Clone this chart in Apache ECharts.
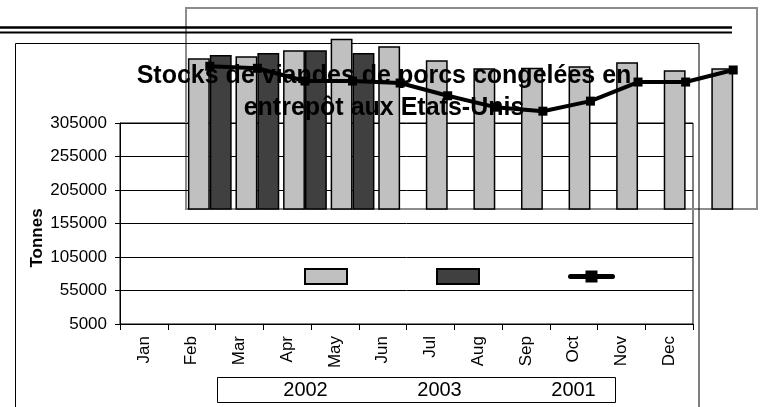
<!DOCTYPE html>
<html><head><meta charset="utf-8">
<script src="https://cdn.jsdelivr.net/npm/echarts@6/dist/echarts.min.js"></script>
<style>html,body{margin:0;padding:0;background:#fff}#c{width:761px;height:407px}</style>
</head><body><div id="c"></div>
<script>
const months = ['Jan','Feb','Mar','Apr','May','Jun','Jul','Aug','Sep','Oct','Nov','Dec'];
const yTickLabels = ['5000','55000','105000','155000','205000','255000','305000'];
const seriesNames = ['2002','2003','2001'];
const stocks2002 = [230000,233000,242000,259000,248000,227000,215000,216000,218000,224000,212000,215000];
const stocks2003 = [235000,238000,242000,238000,null,null,null,null,null,null,null,null];
const stocks2001 = [218000,215000,196000,196000,193000,174000,157000,151000,166000,194500,194500,212500];
const titleText = 'Stocks de viandes de porcs congelées en\nentrepôt aux Etats-Unis';
const axisName = 'Tonnes';

const FONT = 'Liberation Sans, Arial, sans-serif';
const chart = echarts.init(document.getElementById('c'), null, {renderer: 'canvas'});

const yearTexts = seriesNames.map((n, i) => ({
  type: 'text', x: 305.5 + i * 134, y: 390, z: 10,
  style: {text: n, font: '20px ' + FONT, fill: '#000', textAlign: 'center', textVerticalAlign: 'middle'}
}));

chart.setOption({
  animation: false,
  backgroundColor: '#fff',
  title: {
    text: titleText, left: 384, top: 60, textAlign: 'center', padding: 0,
    textStyle: {fontFamily: FONT, fontSize: 25, fontWeight: 'bold', color: '#000', lineHeight: 32}
  },
  legend: {
    data: [
      {name: seriesNames[0], icon: 'rect'},
      {name: seriesNames[1], icon: 'rect'},
      {name: seriesNames[2], lineStyle: {width: 5, cap: 'round'}}
    ],
    left: 304, top: 268, padding: 0, itemWidth: 42, itemHeight: 15, itemGap: 88,
    formatter: () => '', selectedMode: false,
    textStyle: {fontSize: 1}
  },
  grid: [
    {left: 120, top: 123, width: 573, height: 201, show: true, borderColor: '#000', borderWidth: 1, containLabel: false},
    {left: 186, top: 8, width: 571, height: 201, show: true, borderColor: '#8c8c8c', borderWidth: 2, containLabel: false}
  ],
  xAxis: [
    {gridIndex: 0, type: 'category', data: months, boundaryGap: true,
     axisLine: {lineStyle: {color: '#000', width: 1}},
     axisTick: {show: true, length: 6, lineStyle: {color: '#000'}},
     axisLabel: {rotate: 90, fontSize: 17, fontFamily: FONT, color: '#000', margin: 12, interval: 0},
     splitLine: {show: false}},
    {gridIndex: 1, type: 'category', data: months, show: false}
  ],
  yAxis: [
    {gridIndex: 0, type: 'category', data: yTickLabels, boundaryGap: false,
     axisLine: {show: true, lineStyle: {color: '#000', width: 1}},
     axisTick: {show: true, length: 5, interval: 0, lineStyle: {color: '#000'}},
     axisLabel: {fontSize: 17, fontFamily: FONT, color: '#000', margin: 13, interval: 0},
     splitLine: {show: true, interval: 0, lineStyle: {color: '#000', width: 1}}},
    {gridIndex: 1, type: 'value', min: Number(yTickLabels[0]), max: Number(yTickLabels[yTickLabels.length - 1]),
     show: false, splitLine: {show: false}}
  ],
  series: [
    {name: seriesNames[0], type: 'bar', xAxisIndex: 1, yAxisIndex: 1, data: stocks2002,
     barGap: '0%', barCategoryGap: '8%',
     itemStyle: {color: '#c0c0c0', borderColor: '#000', borderWidth: 1.5}},
    {name: seriesNames[1], type: 'bar', xAxisIndex: 1, yAxisIndex: 1, data: stocks2003,
     barGap: '0%', barCategoryGap: '8%',
     itemStyle: {color: '#404040', borderColor: '#000', borderWidth: 1.5}},
    {name: seriesNames[2], type: 'line', xAxisIndex: 1, yAxisIndex: 1, data: stocks2001, z: 8,
     symbol: 'rect', symbolSize: 9, showSymbol: true,
     lineStyle: {color: '#000', width: 4}, itemStyle: {color: '#000'}}
  ],
  graphic: [
    {type: 'rect', shape: {x: 15.5, y: 43.5, width: 683.5, height: 380}, z: 0,
     style: {fill: 'none', stroke: '#000', lineWidth: 1}},
    {type: 'line', shape: {x1: 0, y1: 27.5, x2: 732, y2: 27.5}, style: {stroke: '#000', lineWidth: 2.5}},
    {type: 'line', shape: {x1: 0, y1: 32.5, x2: 732, y2: 32.5}, style: {stroke: '#000', lineWidth: 2}},
    {type: 'text', x: 37, y: 238, rotation: Math.PI / 2,
     style: {text: axisName, font: 'bold 17px ' + FONT, fill: '#000', textAlign: 'center', textVerticalAlign: 'middle'}},
    {type: 'rect', shape: {x: 217.5, y: 377.5, width: 398, height: 25}, style: {fill: '#fff', stroke: '#000', lineWidth: 1}},
    ...yearTexts
  ]
});
</script></body></html>
